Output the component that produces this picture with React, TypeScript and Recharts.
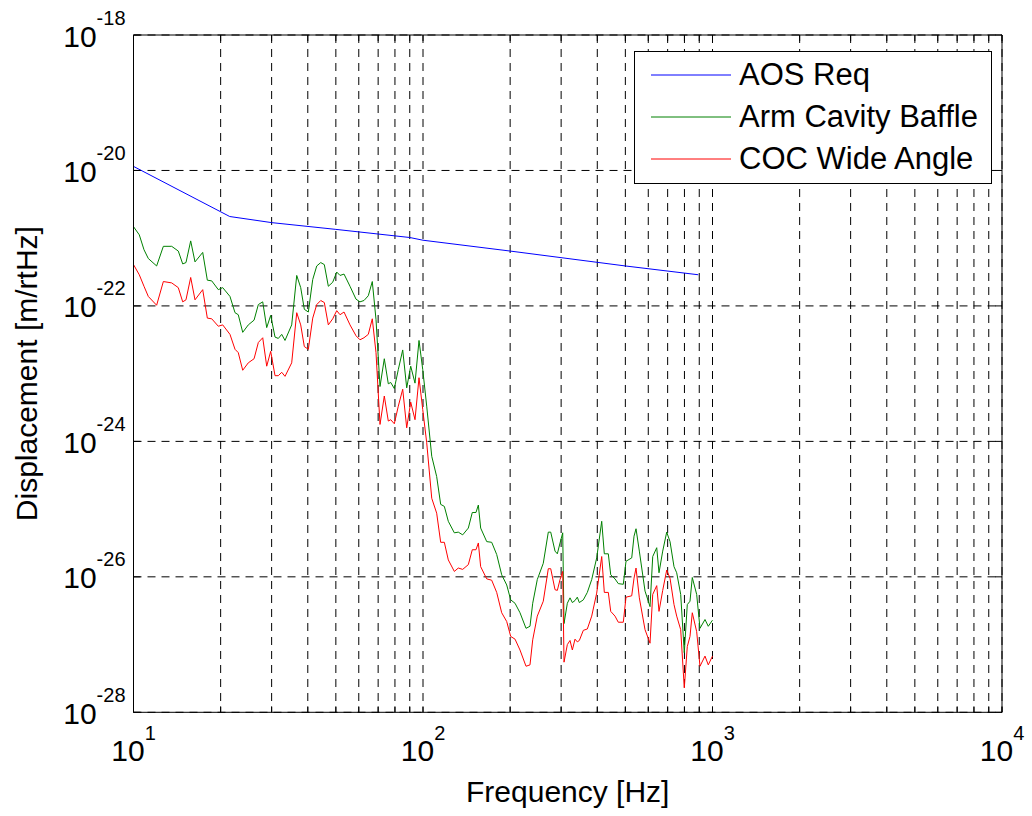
import React from 'react';
import { LineChart, Line, XAxis, YAxis, CartesianGrid, Legend } from 'recharts';

const FONT = '"Liberation Sans", Arial, sans-serif';

// AOS requirement curve (frequency in Hz, log10 of displacement)
const reqFreq = [10, 21.5, 30, 50, 90, 100, 200, 500, 893];
const reqLog = [-19.94, -20.68, -20.77, -20.87, -20.99, -21.03, -21.19, -21.41, -21.54];

// shared frequency grid of the two scattered-light curves
const noiseFreq = [
  10, 10.47, 10.87, 11.25, 12.02, 12.68, 13.55, 14.28, 14.79, 15.18,
  15.76, 16.31, 17.34, 17.99, 18.63, 19.63, 20.33, 21.54, 22.42, 23.01,
  23.84, 24.92, 26.09, 26.99, 27.95, 28.85, 29.78, 30.82, 31.64, 32.51,
  33.37, 35.19, 36.63, 37.81, 38.91, 40.17, 41.6, 42.95, 44.34, 45.62,
  47.1, 48.77, 50.35, 51.69, 53.36, 55.96, 58.69, 60.58, 62.54, 64.72,
  66.81, 68.81, 71.04, 73.51, 75.88, 77.35, 79.6, 82.17, 85.1, 87.85,
  90.69, 93.84, 96.87, 99.8, 103, 107.2, 111.5, 115.1, 118.5, 122.3,
  128.3, 132.4, 137.1, 143.4, 148, 152.4, 155.3, 158.2, 166, 172.7,
  179.7, 187, 194.6, 200.9, 207.9, 216.3, 226.9, 234.2, 239.3, 248.2,
  260.3, 270.9, 276.2, 285.8, 291.1, 297.4, 303.8, 307, 315.2, 322,
  328, 335, 341.2, 346.7, 357.9, 369.5, 382.6, 398.1, 414.3, 423,
  436.6, 445.1, 460.5, 472.7, 491.9, 502.6, 526, 535.7, 544.3, 558.8,
  584.7, 608.4, 621.6, 641.7, 653.5, 673, 694.8, 713.3, 736.3, 752.2,
  776.5, 799, 818.3, 836.1, 851.5, 881.8, 905.3, 942, 967, 1000,
];

// Arm Cavity Baffle, log10 of displacement
const baffleLog = [
  -20.83, -20.95, -21.17, -21.3, -21.41, -21.12, -21.12, -21.19, -21.38, -21.36,
  -21.04, -21.35, -21.21, -21.62, -21.63, -21.76, -21.73, -21.86, -22.1, -22.13,
  -22.39, -22.28, -22.21, -21.98, -21.94, -22.32, -22.14, -22.46, -22.48, -22.42,
  -22.51, -22.28, -21.55, -21.73, -22.05, -22.09, -21.61, -21.41, -21.36, -21.39,
  -21.71, -21.65, -21.5, -21.55, -21.53, -21.71, -21.9, -21.94, -21.92, -21.85,
  -21.64, -22.2, -23.19, -22.78, -23.15, -23.13, -23.22, -22.94, -22.65, -23.21,
  -22.89, -23.14, -22.51, -22.94, -23.48, -24.22, -24.52, -24.93, -24.96, -25.18,
  -25.35, -25.34, -25.38, -25.28, -25.05, -25.05, -24.94, -25.28, -25.48, -25.49,
  -25.67, -25.97, -26.12, -26.34, -26.39, -26.53, -26.76, -26.73, -26.39, -26.04,
  -25.8, -25.34, -25.34, -25.62, -25.66, -25.5, -25.35, -26.69, -26.39, -26.31,
  -26.38, -26.35, -26.3, -26.38, -26.34, -26.23, -26.04, -25.72, -25.18, -25.66,
  -25.66, -25.97, -26.03, -26.1, -26.11, -25.77, -25.72, -25.4, -25.29, -25.62,
  -26.21, -26.44, -25.7, -25.57, -25.94, -25.62, -25.34, -25.48, -25.85, -25.94,
  -26.26, -27.12, -26.41, -26.36, -26.01, -26.26, -26.76, -26.63, -26.73, -26.64,
];

// COC Wide Angle, log10 of displacement
const cocLog = [
  -21.39, -21.54, -21.71, -21.86, -21.99, -21.64, -21.66, -21.73, -21.94, -21.91,
  -21.58, -21.91, -21.76, -22.18, -22.19, -22.3, -22.28, -22.42, -22.64, -22.69,
  -22.95, -22.84, -22.78, -22.54, -22.47, -22.89, -22.67, -23.03, -23.03, -22.98,
  -23.04, -22.84, -22.1, -22.28, -22.6, -22.64, -22.18, -21.98, -21.92, -21.95,
  -22.28, -22.19, -22.07, -22.13, -22.09, -22.28, -22.44, -22.5, -22.47, -22.42,
  -22.19, -22.69, -23.75, -23.33, -23.7, -23.68, -23.74, -23.48, -23.23, -23.8,
  -23.42, -23.68, -23.06, -23.53, -24.02, -24.84, -25.06, -25.49, -25.49, -25.75,
  -25.92, -25.87, -25.89, -25.82, -25.6, -25.6, -25.5, -25.85, -26.03, -26.05,
  -26.23, -26.53, -26.66, -26.88, -26.92, -27.08, -27.32, -27.3, -26.93, -26.58,
  -26.36, -25.88, -25.88, -26.19, -26.2, -26.04, -25.92, -27.26, -27.0, -26.94,
  -27.08, -26.92, -26.96, -26.94, -26.79, -26.77, -26.58, -26.24, -25.7, -26.23,
  -26.23, -26.51, -26.58, -26.67, -26.67, -26.3, -26.28, -26.02, -25.87, -26.31,
  -26.78, -26.98, -26.26, -26.13, -26.51, -26.2, -25.9, -26.02, -26.41, -26.58,
  -26.78, -27.64, -27.03, -26.88, -26.53, -26.81, -27.32, -27.17, -27.3, -27.17,
];

const xTicks = [
  10, 20, 30, 40, 50, 60, 70, 80, 90,
  100, 200, 300, 400, 500, 600, 700, 800, 900,
  1000, 2000, 3000, 4000, 5000, 6000, 7000, 8000, 9000, 10000,
];
const yTicks = [1e-28, 1e-26, 1e-24, 1e-22, 1e-20, 1e-18];

const seriesNames = ['AOS Req', 'Arm Cavity Baffle', 'COC Wide Angle'];
const seriesColors = ['#0000ff', '#008000', '#ff0000'];

const reqRows = reqFreq.map((f, i) => ({ f, v: Math.pow(10, reqLog[i]) }));
const noiseRows = noiseFreq.map((f, i) => ({
  f,
  baffle: Math.pow(10, baffleLog[i]),
  coc: Math.pow(10, cocLog[i]),
}));

const isDecade = (v: number) => Math.abs(Math.log10(v) - Math.round(Math.log10(v))) < 1e-9;

function BottomTick(props: any) {
  const { x, y, payload } = props;
  const v = payload.value;
  return (
    <g>
      <line x1={x} x2={x} y1={y} y2={y - 6} stroke="#000" />
      {isDecade(v) && (
        <text x={x} y={y + 48.5} textAnchor="middle" fontSize={30} fontFamily={FONT} fill="#000">
          10<tspan dy={-21} fontSize={20}>{Math.round(Math.log10(v))}</tspan>
        </text>
      )}
    </g>
  );
}

function TopTick(props: any) {
  const { x, y } = props;
  return <line x1={x} x2={x} y1={y} y2={y + 6} stroke="#000" />;
}

function LeftTick(props: any) {
  const { x, y, payload } = props;
  return (
    <g>
      <line x1={x} x2={x + 7} y1={y} y2={y} stroke="#000" />
      <text x={x - 8} y={y + 11.5} textAnchor="end" fontSize={30} fontFamily={FONT} fill="#000">
        10<tspan dy={-22} fontSize={20}>{Math.round(Math.log10(payload.value))}</tspan>
      </text>
    </g>
  );
}

function RightTick(props: any) {
  const { x, y } = props;
  return <line x1={x} x2={x - 7} y1={y} y2={y} stroke="#000" />;
}

function LegendBox() {
  return (
    <div style={{ width: 356, height: 131, border: '1px solid #000', background: '#fff', position: 'relative', fontFamily: FONT, fontSize: 31, color: '#000' }}>
      {seriesNames.map((name, i) => (
        <div key={name} style={{ position: 'absolute', left: 16, top: 6 + i * 42, height: 34, display: 'flex', alignItems: 'center' }}>
          <svg width={80} height={4} style={{ display: 'block' }}>
            <line x1={0} x2={80} y1={2} y2={2} stroke={seriesColors[i]} strokeWidth={1} />
          </svg>
          <span style={{ marginLeft: 8, lineHeight: '34px', whiteSpace: 'nowrap' }}>{name}</span>
        </div>
      ))}
    </div>
  );
}

export default function App() {
  return (
    <div style={{ position: 'absolute', left: 0, top: 0, background: '#fff' }}>
      <LineChart width={1032} height={816} margin={{ top: 30, right: 20, bottom: 13.7, left: 0 }}>
        <CartesianGrid stroke="#000" strokeDasharray="8 6" />
        <XAxis
          dataKey="f"
          type="number"
          scale="log"
          domain={[10, 10000]}
          allowDataOverflow
          ticks={xTicks}
          interval={0}
          tickSize={0}
          tickMargin={0}
          height={90}
          axisLine={{ stroke: '#000' }}
          tick={<BottomTick />}
          label={{
            content: (p: any) => (
              <text x={p.viewBox.x + p.viewBox.width / 2} y={p.viewBox.y + 89.5} textAnchor="middle" fontSize={30} fontFamily={FONT} fill="#000">
                Frequency [Hz]
              </text>
            ),
          }}
        />
        <XAxis
          xAxisId="top"
          orientation="top"
          dataKey="f"
          type="number"
          scale="log"
          domain={[10, 10000]}
          allowDataOverflow
          ticks={xTicks}
          interval={0}
          tickSize={0}
          tickMargin={0}
          height={5}
          axisLine={{ stroke: '#000' }}
          tick={<TopTick />}
        />
        <YAxis
          type="number"
          scale="log"
          domain={[1e-28, 1e-18]}
          allowDataOverflow
          ticks={yTicks}
          interval={0}
          tickSize={0}
          tickMargin={0}
          width={133.5}
          axisLine={{ stroke: '#000' }}
          tick={<LeftTick />}
          label={{
            content: (p: any) => {
              const cy = p.viewBox.y + p.viewBox.height / 2;
              return (
                <text x={37} y={cy} transform={`rotate(-90 37 ${cy})`} textAnchor="middle" fontSize={30} fontFamily={FONT} fill="#000">
                  Displacement [m/rtHz]
                </text>
              );
            },
          }}
        />
        <YAxis
          yAxisId="right"
          orientation="right"
          type="number"
          scale="log"
          domain={[1e-28, 1e-18]}
          allowDataOverflow
          ticks={yTicks}
          interval={0}
          tickSize={0}
          tickMargin={0}
          width={10}
          axisLine={{ stroke: '#000' }}
          tick={<RightTick />}
        />
        <Legend
          layout="vertical"
          align="center"
          verticalAlign="middle"
          wrapperStyle={{ left: 634, top: 51, width: 'auto' }}
          content={<LegendBox />}
        />
        <Line data={reqRows} dataKey="v" name={seriesNames[0]} stroke={seriesColors[0]} strokeWidth={1} dot={false} activeDot={false} isAnimationActive={false} />
        <Line data={noiseRows} dataKey="baffle" name={seriesNames[1]} stroke={seriesColors[1]} strokeWidth={1} dot={false} activeDot={false} isAnimationActive={false} />
        <Line data={noiseRows} dataKey="coc" name={seriesNames[2]} stroke={seriesColors[2]} strokeWidth={1} dot={false} activeDot={false} isAnimationActive={false} />
      </LineChart>
    </div>
  );
}
